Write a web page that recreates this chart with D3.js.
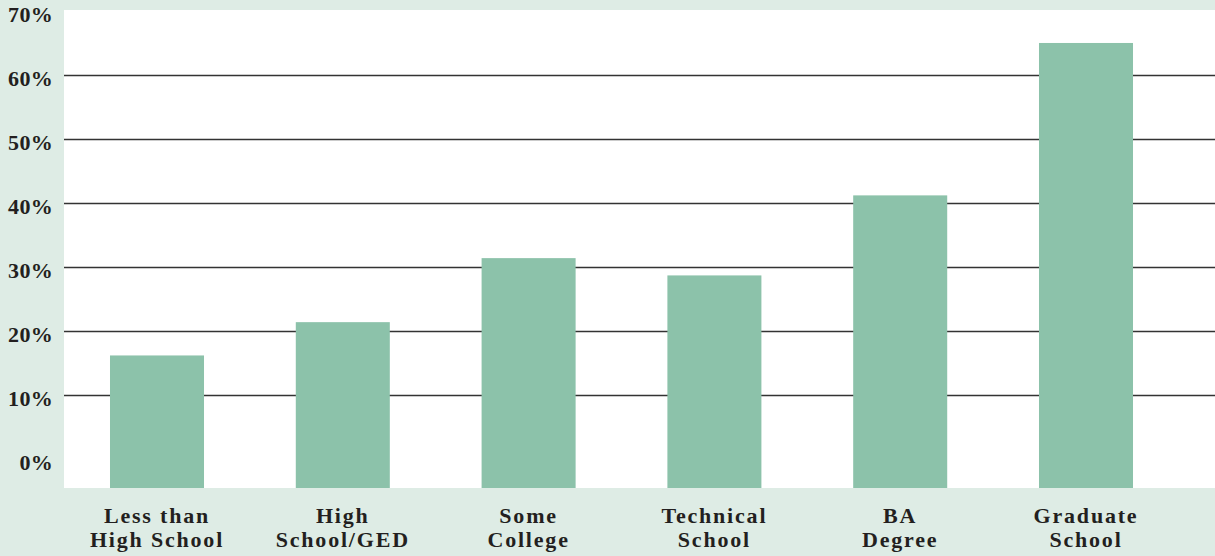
<!DOCTYPE html>
<html><head><meta charset="utf-8">
<script src="https://cdn.jsdelivr.net/npm/d3@7"></script>
<style>
html,body{margin:0;padding:0;background:#deece5;}
svg{display:block;}
</style></head>
<body>
<svg id="chart" width="1215" height="556"></svg>
<script>
const categories = [["Less than","High School"],["High","School/GED"],["Some","College"],["Technical","School"],["BA","Degree"],["Graduate","School"]];
const values = [16.2, 21.4, 31.4, 28.7, 41.2, 65.0];
const tickValues = [0,10,20,30,40,50,60,70];
const tickLabels = ["0%","10%","20%","30%","40%","50%","60%","70%"];

const W = 1215, H = 556;
const plot = {left:64, right:1215, top:10, bottom:488};
const svg = d3.select("#chart");
svg.append("rect").attr("width",W).attr("height",H).attr("fill","#deece5");
svg.append("rect").attr("x",plot.left).attr("y",plot.top)
  .attr("width",plot.right-plot.left).attr("height",plot.bottom-plot.top).attr("fill","#ffffff");

const keys = categories.map(c=>c.join(" "));
const x = d3.scaleBand().domain(keys).range([64.1,1178.9]).paddingInner(0.494).paddingOuter(0.247);
const y = d3.scaleLinear().domain([-4.5,70.15]).range([plot.bottom,plot.top]);

// gridlines
svg.append("g").selectAll("line").data(tickValues.filter(v=>v>0 && v<70)).join("line")
  .attr("x1",plot.left).attr("x2",plot.right)
  .attr("y1",d=>Math.round(y(d))+0.5).attr("y2",d=>Math.round(y(d))+0.5)
  .attr("stroke","#333333").attr("stroke-width",1.4);

// bars
svg.append("g").selectAll("rect").data(values).join("rect")
  .attr("x",(d,i)=>x(keys[i])).attr("width",x.bandwidth())
  .attr("y",d=>y(d)).attr("height",d=>y.range()[0]-y(d))
  .attr("fill","#8cc2aa");

// y labels
const yAxis = d3.axisLeft(y).tickValues(tickValues).tickFormat((d,i)=>tickLabels[i]).tickSize(0).tickPadding(0);
const ya = svg.append("g").attr("transform","translate(53,3)").call(yAxis);
ya.select(".domain").remove();
ya.selectAll("text").attr("font-family","'Liberation Serif',serif").attr("font-weight","bold")
  .attr("font-size",22).attr("fill","#231f20").attr("letter-spacing","0.3px");

// x labels
const xl = svg.append("g");
categories.forEach((c,i)=>{
  const t = xl.append("text").attr("x",x(keys[i])+x.bandwidth()/2).attr("text-anchor","middle")
    .attr("font-family","'Liberation Serif',serif").attr("font-weight","bold")
    .attr("font-size",22).attr("fill","#231f20").attr("letter-spacing","1.8px");
  c.forEach((line,j)=>{
    t.append("tspan").attr("x",x(keys[i])+x.bandwidth()/2).attr("y",523+j*24).text(line);
  });
});
</script>
</body></html>
